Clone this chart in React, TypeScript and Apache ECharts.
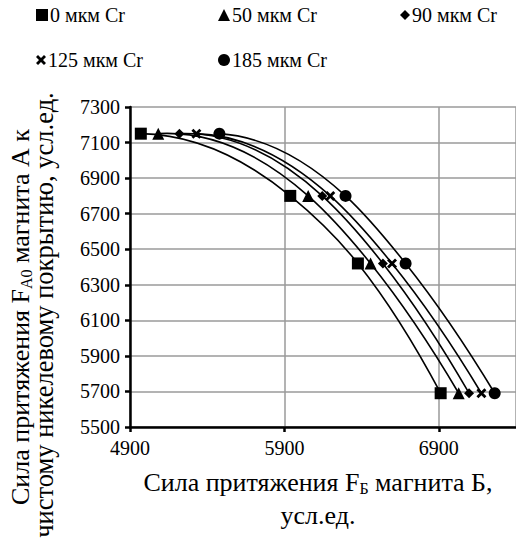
import React, { useEffect, useRef } from "react";
import * as echarts from "echarts";

const seriesNames = ["0 мкм Cr", "50 мкм Cr", "90 мкм Cr", "125 мкм Cr", "185 мкм Cr"];
const yValues = [7150, 6800, 6420, 5690];
const x0 = [4970, 5938, 6376, 6912];
const x50 = [5083, 6054, 6458, 7029];
const x90 = [5220, 6145, 6538, 7096];
const x125 = [5330, 6197, 6597, 7176];
const x185 = [5479, 6296, 6685, 7262];
const xSets = [x0, x50, x90, x125, x185];
const xTicks = [4900, 5900, 6900];

const crossPath =
  "path://M0,2 L2,0 L5,3 L8,0 L10,2 L7,5 L10,8 L8,10 L5,7 L2,10 L0,8 L3,5 Z";
const symbols = ["rect", "triangle", "diamond", crossPath, "circle"];
const symbolSizes = [12, 12, 10, 10, 12];

const FONT = "Liberation Serif";

function curveSeries(xs: number[]) {
  return {
    type: "custom",
    silent: true,
    z: 2,
    data: xs.map((x, j) => [x, yValues[j]]),
    encode: { x: 0, y: 1 },
    renderItem: (params: any, api: any) => {
      if (params.dataIndex !== 0) return { type: "group", children: [] };
      const pts = xs.map((x, j) => api.coord([x, yValues[j]]));
      const n = pts.length;
      const h: number[] = [];
      const s: number[] = [];
      for (let i = 0; i < n - 1; i++) {
        h[i] = pts[i + 1][0] - pts[i][0];
        s[i] = (pts[i + 1][1] - pts[i][1]) / h[i];
      }
      const m: number[] = [];
      for (let i = 1; i < n - 1; i++) {
        m[i] = (h[i] * s[i - 1] + h[i - 1] * s[i]) / (h[i - 1] + h[i]);
      }
      m[0] = s[0] + ((s[0] - s[1]) * h[0]) / (h[0] + h[1]);
      m[n - 1] = s[n - 2] + ((s[n - 2] - s[n - 3]) * h[n - 2]) / (h[n - 3] + h[n - 2]);
      const children = [];
      for (let i = 0; i < n - 1; i++) {
        const d = h[i] / 3;
        children.push({
          type: "bezierCurve",
          shape: {
            x1: pts[i][0],
            y1: pts[i][1],
            x2: pts[i + 1][0],
            y2: pts[i + 1][1],
            cpx1: pts[i][0] + d,
            cpy1: pts[i][1] + m[i] * d,
            cpx2: pts[i + 1][0] - d,
            cpy2: pts[i + 1][1] - m[i + 1] * d,
          },
          style: { stroke: "#000", lineWidth: 1.6, fill: null },
        });
      }
      return { type: "group", children };
    },
  };
}

export default function App() {
  const ref = useRef<HTMLDivElement>(null);
  useEffect(() => {
    if (!ref.current) return;
    const chart = echarts.init(ref.current, undefined, { renderer: "svg" });
    const legendPos = [
      { left: 36, top: 5 },
      { left: 218, top: 5 },
      { left: 400, top: 5 },
      { left: 36, top: 50 },
      { left: 218, top: 50 },
    ];
    const option: any = {
      animation: false,
      backgroundColor: "#fff",
      textStyle: { fontFamily: FONT, color: "#000" },
      legend: seriesNames.map((n, i) => ({
        data: [n],
        left: legendPos[i].left,
        top: legendPos[i].top,
        icon: symbols[i],
        itemWidth: symbolSizes[i],
        itemHeight: symbolSizes[i],
        itemGap: 0,
        padding: 0,
        textStyle: { fontFamily: FONT, fontSize: 20, color: "#000", padding: [0, 0, 0, -3] },
        itemStyle: { color: "#000" },
      })),
      grid: { left: 130, top: 107, width: 386, height: 320, containLabel: false },
      xAxis: {
        type: "value",
        min: 4900,
        max: 7400,
        interval: 1000,
        axisLine: { show: true, lineStyle: { color: "#000", width: 2.5 } },
        axisTick: { show: true, length: 5, lineStyle: { color: "#000", width: 2.5 } },
        axisLabel: {
          showMaxLabel: false,
          fontFamily: FONT,
          fontSize: 20,
          color: "#000",
          margin: 11,
          formatter: (v: number) => (xTicks.includes(v) ? String(v) : ""),
        },
        splitLine: { show: true, lineStyle: { color: "#9a9a9a", width: 1.5 } },
      },
      yAxis: {
        type: "value",
        min: 5500,
        max: 7300,
        interval: 200,
        axisLine: { show: true, onZero: false, lineStyle: { color: "#000", width: 2.5 } },
        axisTick: { show: true, length: 5, lineStyle: { color: "#000", width: 2.5 } },
        axisLabel: {
          fontFamily: FONT,
          fontSize: 20,
          color: "#000",
          margin: 10,
          formatter: (v: number) => String(v),
        },
        splitLine: { show: true, lineStyle: { color: "#9a9a9a", width: 1.5 } },
      },
      series: [
        ...xSets.map((xs) => curveSeries(xs)),
        ...seriesNames.map((n, i) => ({
          name: n,
          type: "scatter",
          symbol: symbols[i],
          symbolSize: symbolSizes[i],
          itemStyle: { color: "#000", opacity: 1 },
          data: xSets[i].map((x, j) => [x, yValues[j]]),
          z: 3,
        })),
      ],
      graphic: [
        {
          type: "text",
          x: 318,
          y: 482,
          style: {
            text: "{a|Сила притяжения F}{s|Б}{a| магнита Б,}",
            align: "center",
            verticalAlign: "middle",
            rich: {
              a: { fontFamily: FONT, fontSize: 26, color: "#000" },
              s: { fontFamily: FONT, fontSize: 16, color: "#000", padding: [12, 0, 0, 0] },
            },
          },
        },
        {
          type: "text",
          x: 318,
          y: 515,
          style: {
            text: "усл.ед.",
            align: "center",
            verticalAlign: "middle",
            fontFamily: FONT,
            fontSize: 26,
            fill: "#000",
          },
        },
        {
          type: "text",
          x: 20,
          y: 317,
          rotation: Math.PI / 2,
          style: {
            text: "{a|Сила притяжения F}{s|A0}{a| магнита А к}",
            align: "center",
            verticalAlign: "middle",
            rich: {
              a: { fontFamily: FONT, fontSize: 26, color: "#000" },
              s: { fontFamily: FONT, fontSize: 16, color: "#000", padding: [12, 0, 0, 0] },
            },
          },
        },
        {
          type: "text",
          x: 44,
          y: 315,
          rotation: Math.PI / 2,
          style: {
            text: "чистому никелевому покрытию, усл.ед.",
            align: "center",
            verticalAlign: "middle",
            fontFamily: FONT,
            fontSize: 26.5,
            fill: "#000",
          },
        },
      ],
    };
    chart.setOption(option);
    return () => chart.dispose();
  }, []);
  return (
    <div
      ref={ref}
      style={{ position: "fixed", left: 0, top: 0, width: 516, height: 541, background: "#fff" }}
    />
  );
}
